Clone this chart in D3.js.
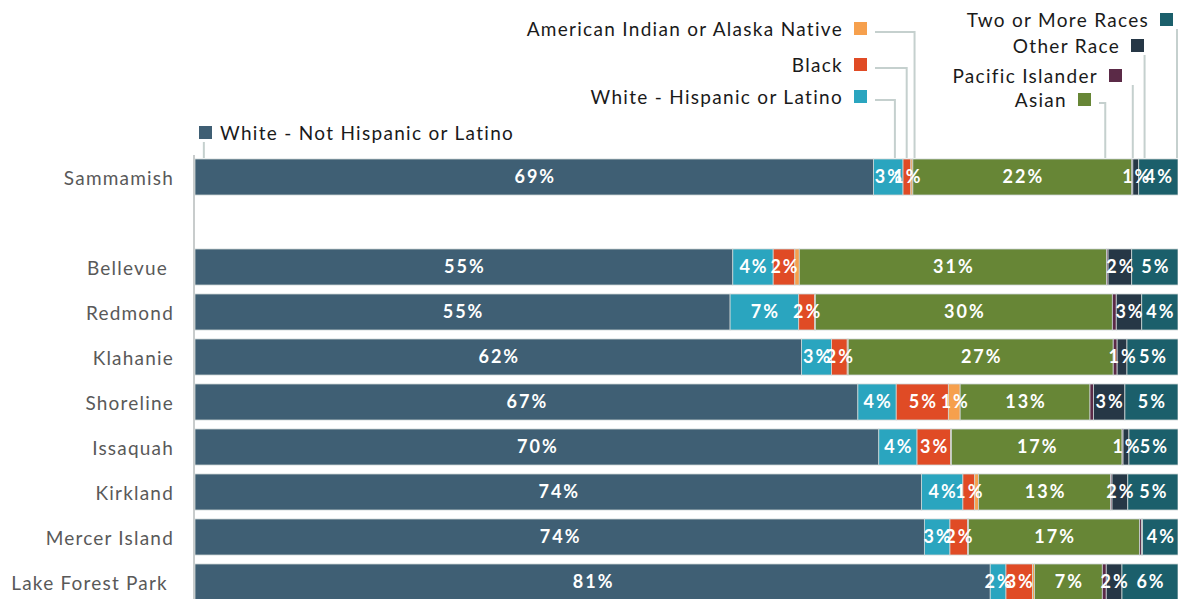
<!DOCTYPE html>
<html>
<head>
<meta charset="utf-8">
<script src="https://cdn.jsdelivr.net/npm/d3@7"></script>
<style>
  body { margin: 0; background: #fff; }
  text { font-family: Lato, "Open Sans", sans-serif; }
</style>
</head>
<body>
<div id="chart"></div>
<script>
// categories, top to bottom (an empty slot sits after Sammamish)
const cities = ['Sammamish', 'Bellevue ', 'Redmond', 'Klahanie', 'Shoreline', 'Issaquah', 'Kirkland', 'Mercer Island', 'Lake Forest Park ']
const groups = ['White - Not Hispanic or Latino', 'White - Hispanic or Latino', 'Black', 'American Indian or Alaska Native',
  'Asian', 'Pacific Islander', 'Other Race', 'Two or More Races']

// percent of population, same order as cities
const whiteNonHisp = [69.1, 54.6, 54.6, 61.8, 67.4, 69.7, 73.8, 74.2, 80.9]
const whiteHisp    = [3.0, 4.1, 7.0, 3.05, 3.9, 3.9, 4.2, 2.6, 1.6]
const black        = [0.8, 2.2, 1.6, 1.6, 5.3, 3.4, 1.2, 1.8, 2.7]
const aian         = [0.2, 0.45, 0.1, 0.1, 1.2, 0.1, 0.4, 0.1, 0.2]
const asian        = [22.3, 31.2, 30.3, 27.0, 13.2, 17.4, 13.4, 17.4, 6.9]
const pacific      = [0.1, 0.15, 0.4, 0.4, 0.35, 0.1, 0.15, 0.2, 0.4]
const otherRace    = [0.6, 2.4, 2.6, 1.0, 3.2, 0.6, 1.6, 0.1, 1.6]
const twoOrMore    = [4.0, 4.7, 3.7, 5.2, 5.4, 5.0, 5.1, 3.6, 5.7]

const series = [whiteNonHisp, whiteHisp, black, aian, asian, pacific, otherRace, twoOrMore]
const colors = ['#3f5f74', '#2aa5bf', '#e04b25', '#f6a04d', '#678636', '#5b2a47', '#263746', '#1b5f6b']

// where each legend leader meets the first bar, in percent of the bar
const leaderAt = [0.9, 71.2, 72.4, 73.2, 92.6, 95.4, 96.6, 99.9]

const width = 1178, height = 599

const svg = d3.select('#chart').append('svg')
  .attr('width', width).attr('height', height)

const rows = cities.map((c, i) => {
  const r = { city: c }
  groups.forEach((g, j) => { r[g] = series[j][i] })
  return r
})

const stack = d3.stack().keys(groups).offset(d3.stackOffsetExpand)
const stacked = stack(rows)

const bandDomain = [cities[0], '__gap__'].concat(cities.slice(1))
const y = d3.scaleBand().domain(bandDomain).range([154.5, 604.5]).paddingInner(0.2).paddingOuter(0.1)
const x = d3.scaleLinear().domain([0, 1]).range([195, 1178])

// bars
const layer = svg.append('g').selectAll('g')
  .data(stacked)
  .join('g')
  .attr('fill', (d, i) => colors[i])

layer.selectAll('rect')
  .data(d => d)
  .join('rect')
  .attr('x', d => x(d[0]))
  .attr('y', d => y(d.data.city))
  .attr('width', d => x(d[1]) - x(d[0]))
  .attr('height', y.bandwidth())
  .attr('stroke', '#cdd5d5')
  .attr('stroke-width', 0.8)

// data labels
const labels = svg.append('g')
stacked.forEach((s, j) => {
  s.forEach((d, i) => {
    const v = Math.round(series[j][i])
    if (v < 1) return
    labels.append('text')
      .attr('x', x((d[0] + d[1]) / 2) + 1)
      .attr('y', y(d.data.city) + y.bandwidth() / 2)
      .attr('dy', '0.36em')
      .attr('text-anchor', 'middle')
      .attr('fill', '#fff')
      .attr('font-size', 18)
      .attr('font-weight', 700)
      .attr('letter-spacing', 2)
      .text(v + '%')
  })
})

// axis
const yAxis = svg.append('g')
  .attr('transform', `translate(${x(0) - 1},0)`)
  .call(d3.axisLeft(y).tickSize(0).tickPadding(20).tickFormat(d => d === '__gap__' ? '' : d))
yAxis.select('.domain').attr('stroke', '#c8cccc').attr('stroke-width', 2)
  .attr('d', `M0,${y(cities[0]) - 4}V${height}`)
yAxis.selectAll('text')
  .attr('font-size', 19)
  .attr('dy', '0.4em')
  .attr('fill', '#595959')
  .attr('letter-spacing', 1.2)
  .style('white-space', 'pre')

// legend with leader lines
const legendLayout = [
  { sx: 199, sy: 126, side: 'right' },
  { sx: 854, sy: 90, side: 'left' },
  { sx: 854, sy: 58, side: 'left' },
  { sx: 854, sy: 22, side: 'left' },
  { sx: 1078, sy: 93, side: 'left' },
  { sx: 1109, sy: 69, side: 'left' },
  { sx: 1131, sy: 39, side: 'left' },
  { sx: 1160, sy: 13, side: 'left' }
]
const sq = 13
const barTop = y(cities[0]) - 1
const legend = svg.append('g')
groups.forEach((g, j) => {
  const L = legendLayout[j]
  const lx = x(leaderAt[j] / 100)
  let path
  if (lx > L.sx + sq + 12) {
    const ly = L.sy + sq - 3
    path = `M${L.sx + sq + 8},${ly}H${lx}V${barTop}`
  } else {
    path = `M${lx},${L.sy + sq + 3}V${barTop}`
  }
  legend.append('path').attr('d', path)
    .attr('fill', 'none').attr('stroke', '#c5d0ce').attr('stroke-width', 2)
  legend.append('rect')
    .attr('x', L.sx).attr('y', L.sy).attr('width', sq).attr('height', sq)
    .attr('fill', colors[j])
  legend.append('text')
    .attr('x', L.side === 'left' ? L.sx - 11 : L.sx + sq + 8)
    .attr('y', L.sy + sq / 2)
    .attr('dy', '0.4em')
    .attr('text-anchor', L.side === 'left' ? 'end' : 'start')
    .attr('font-size', 19)
    .attr('letter-spacing', 1.3)
    .attr('fill', '#1a1a1a')
    .text(g)
})
</script>
</body>
</html>
